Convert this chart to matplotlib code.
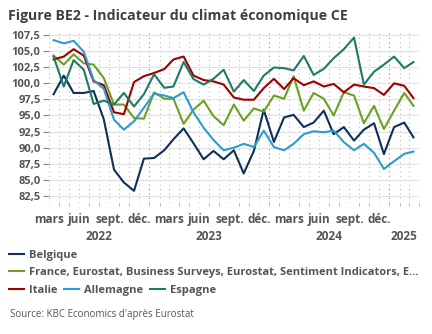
import pandas as pd
import numpy as np
import matplotlib
matplotlib.use("Agg")
import matplotlib.pyplot as plt
import matplotlib.transforms as mtransforms

months = pd.date_range("2022-03-01", periods=37, freq="MS") + pd.Timedelta(days=14)

belgique = [98.3, 101.2, 98.5, 98.5, 98.8, 94.4, 86.6, 84.6, 83.3, 88.3, 88.4, 89.6, 91.3,
            93.0, 90.7, 88.2, 89.5, 88.2, 89.6, 86.0, 89.5, 95.9, 90.9, 94.7, 95.1, 93.2,
            93.9, 95.75, 92.1, 93.2, 91.1, 92.8, 93.8, 89.0, 93.2, 93.9, 91.6]
france = [104.3, 102.9, 104.5, 103.1, 102.9, 100.8, 96.7, 96.7, 94.6, 94.5, 98.6, 97.6, 97.6,
          93.7, 95.9, 97.3, 94.9, 93.5, 96.7, 94.2, 96.1, 95.6, 98.1, 97.6, 101.1, 95.75,
          98.5, 97.6, 95.0, 98.6, 98.1, 93.8, 96.5, 92.9, 95.75, 98.5, 96.5]
italie = [103.7, 104.15, 105.3, 104.3, 100.3, 99.7, 95.5, 95.2, 100.2, 101.1, 101.6, 102.2,
          103.7, 104.15, 101.2, 100.5, 100.3, 99.8, 97.8, 97.45, 97.45, 99.25, 100.7, 99.1,
          100.8, 99.7, 100.3, 99.5, 99.9, 98.6, 99.8, 99.5, 99.25, 98.2, 100.0, 99.6, 97.7]
allemagne = [106.7, 106.2, 106.6, 104.9, 100.5, 99.15, 94.35, 92.8, 94.1, 96.2, 98.4, 98.1,
             97.7, 98.6, 95.5, 93.1, 91.2, 89.6, 90.0, 90.6, 90.1, 92.65, 90.1, 89.6, 90.6,
             92.1, 92.55, 92.4, 92.65, 90.85, 89.6, 90.6, 89.2, 86.7, 87.9, 89.05, 89.4]
espagne = [104.15, 99.5, 103.6, 102.1, 96.8, 97.3, 96.7, 98.5, 96.4, 98.3, 101.4, 99.3, 99.5,
           103.3, 100.65, 99.8, 100.7, 102.1, 98.7, 100.5, 98.8, 101.2, 102.45, 102.35, 102.0,
           104.25, 101.3, 102.25, 103.9, 105.3, 107.1, 99.8, 101.8, 102.9, 104.15, 102.35, 103.3]

y_ticks = [82.5, 85.0, 87.5, 90.0, 92.5, 95.0, 97.5, 100.0, 102.5, 105.0, 107.5]
mois_ticks = pd.date_range("2022-03-01", "2024-12-01", freq="3MS")
mois_fr = {3: "mars", 6: "juin", 9: "sept.", 12: "déc."}
annees = [2022, 2023, 2024, 2025]

plt.rcParams['font.family'] = ['Open Sans', 'DejaVu Sans']
gris = "#555555"

fig = plt.figure(figsize=(4.32, 3.34), dpi=100)
ax = fig.add_axes([0.1134, 0.392, 0.8566, 0.509])

series = [
    (belgique, "#0e2f5a", "Belgique"),
    (france, "#6aa121", "France, Eurostat, Business Surveys, Eurostat, Sentiment Indicators, E…"),
    (italie, "#a00000", "Italie"),
    (allemagne, "#2e9bd0", "Allemagne"),
    (espagne, "#1f7a65", "Espagne"),
]
handles = []
for vals, col, lab in series:
    ln, = ax.plot(months, vals, color=col, lw=1.5, label=lab)
    handles.append(ln)

x0 = pd.Timestamp("2022-03-01")
x1 = pd.Timestamp("2025-04-01")
ax.set_xlim(x0, x1)
ax.set_ylim(81.4, 107.8)

# horizontal grid
ax.set_yticks(y_ticks)
ax.set_yticklabels([f"{v:.1f}".replace(".", ",") for v in y_ticks])
ax.grid(axis="y", color="#e3e3e3", lw=0.9)
ax.set_axisbelow(True)

# vertical dotted grid at every month, darker at years
for d in pd.date_range(x0, x1, freq="MS"):
    c = "#888888" if d.month == 1 else "#bbbbbb"
    ax.axvline(d, color=c, lw=0.8, ls=(0, (1, 3)), zorder=0)

ax.set_xticks(mois_ticks)
ax.set_xticklabels([mois_fr[d.month] for d in mois_ticks])
ax.set_xticks(pd.date_range(x0, x1, freq="MS"), minor=True)
ax.tick_params(axis="x", which="major", length=0, pad=7, labelsize=8.5, labelcolor=gris)
ax.tick_params(axis="x", which="minor", length=2, color="#aaaaaa")
ax.tick_params(axis="y", length=4, color="#888888", pad=2, labelsize=8, labelcolor=gris)
for lab in ax.get_xticklabels() + ax.get_yticklabels():
    lab.set_fontweight("bold")

for s in ax.spines.values():
    s.set_visible(False)

trans = mtransforms.blended_transform_factory(ax.transData, ax.transAxes)
for a in annees:
    debut = max(pd.Timestamp(f"{a}-01-01"), x0)
    fin = min(pd.Timestamp(f"{a + 1}-01-01"), x1)
    milieu = debut + (fin - debut) / 2
    ax.text(milieu, -0.195, str(a), transform=trans, ha="center", va="center",
            fontsize=8.5, fontweight="bold", color=gris)

fig.text(0.018, 0.953, "Figure BE2 - Indicateur du climat économique CE", fontsize=10.2,
         fontweight="bold", color="#404040", va="center")

leg_kw = dict(frameon=False, handlelength=1.4, handletextpad=0.4, columnspacing=0.6,
              borderaxespad=0, borderpad=0, prop={"size": 8, "weight": "bold"},
              labelcolor=gris, loc="center left")
fig.legend(handles=[handles[0]], bbox_to_anchor=(0.02, 0.236), **leg_kw)
fig.legend(handles=[handles[1]], bbox_to_anchor=(0.02, 0.183), **leg_kw)
fig.legend(handles=handles[2:], ncol=3, bbox_to_anchor=(0.02, 0.131), **leg_kw)

fig.text(0.023, 0.057, "Source: KBC Economics d'après Eurostat", fontsize=7, color=gris, va="center")

fig.savefig("out.png", dpi=100)
